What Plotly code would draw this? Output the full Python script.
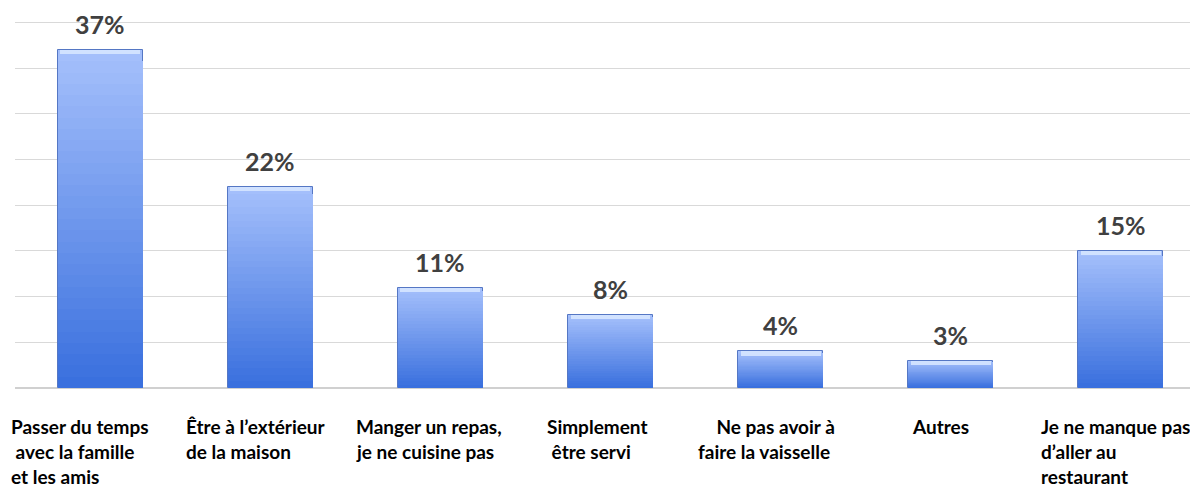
import plotly.graph_objects as go

# ---- data ----
categories = [
    "Passer du temps avec la famille et les amis",
    "Être à l’extérieur de la maison",
    "Manger un repas, je ne cuisine pas",
    "Simplement être servi",
    "Ne pas avoir à faire la vaisselle",
    "Autres",
    "Je ne manque pas d’aller au restaurant",
]
label_lines = [
    ["Passer du temps", "\u00a0avec la famille", "et les amis"],
    ["Être à l’extérieur", "de la maison"],
    ["Manger un repas,", "je ne cuisine pas"],
    ["Simplement", "\u00a0être servi"],
    ["\u00a0\u00a0\u00a0\u00a0Ne pas avoir à", "faire la vaisselle"],
    ["Autres"],
    ["Je ne manque pas", "d’aller au", "restaurant"],
]
values = [37, 22, 11, 8, 4, 3, 15]
value_labels = ["37%", "22%", "11%", "8%", "4%", "3%", "15%"]

# ---- style ----
label_xshift = [-91, -86, -86, -66, -85, -41, -82]
TOP_RGB = (164, 191, 251)
BOT_RGB = (58, 112, 222)
N_STEPS = 30
FONT = "Lato"
BEVEL = 0.45  # height of top highlight strip, in axis units

x_idx = list(range(len(categories)))

fig = go.Figure()
for k in range(N_STEPS):
    frac = 1 - k / N_STEPS
    t = k / (N_STEPS - 1)
    r, g, b = [round(TOP_RGB[c] + (BOT_RGB[c] - TOP_RGB[c]) * t) for c in range(3)]
    fig.add_trace(go.Bar(
        x=x_idx,
        y=[v * frac for v in values],
        width=0.5,
        marker=dict(color=f"rgb({r},{g},{b})",
                    line=dict(width=1 if k == 0 else 0, color="#5577c4")),
        hoverinfo="skip" if k else None,
        hovertext=categories if k == 0 else None,
        showlegend=False,
    ))

# top bevel highlight
fig.add_trace(go.Bar(
    x=x_idx, y=[BEVEL] * len(values), base=[v - BEVEL for v in values],
    width=0.47, marker=dict(color="rgba(214,230,255,0.9)", line=dict(width=0)),
    hoverinfo="skip", showlegend=False,
))

# value labels
for i, (v, lab) in enumerate(zip(values, value_labels)):
    fig.add_annotation(x=i, y=v, text=lab, showarrow=False,
                       xanchor="center", yanchor="bottom", yshift=9,
                       font=dict(family=FONT, size=25, color="#404040", weight="bold"))

# category labels (per line for exact line spacing)
LINE_Y0 = -38
LINE_STEP = 25
for i, lines in enumerate(label_lines):
    for j, line in enumerate(lines):
        fig.add_annotation(x=i, y=0, xref="x", yref="y", text=line, showarrow=False,
                           xanchor="left", yanchor="middle",
                           xshift=label_xshift[i], yshift=LINE_Y0 - j * LINE_STEP,
                           font=dict(family=FONT, size=19, color="#000000", weight="bold"))

fig.update_layout(
    width=1198, height=494,
    margin=dict(l=7, r=0, t=10.4, b=113.5, pad=0),
    paper_bgcolor="white", plot_bgcolor="white",
    barmode="overlay", bargap=0,
    xaxis=dict(range=[-0.5, 6.5], showticklabels=False, showgrid=False,
               zeroline=False, showline=False, ticks=""),
    yaxis=dict(range=[0, 40.5], tickvals=[0, 5, 10, 15, 20, 25, 30, 35, 40],
               showticklabels=False, showgrid=True,
               gridcolor="#d9d9d9", gridwidth=1, zeroline=True,
               zerolinecolor="#d0d0d0", zerolinewidth=1.5, ticks=""),
)

fig.write_html("out.html")
